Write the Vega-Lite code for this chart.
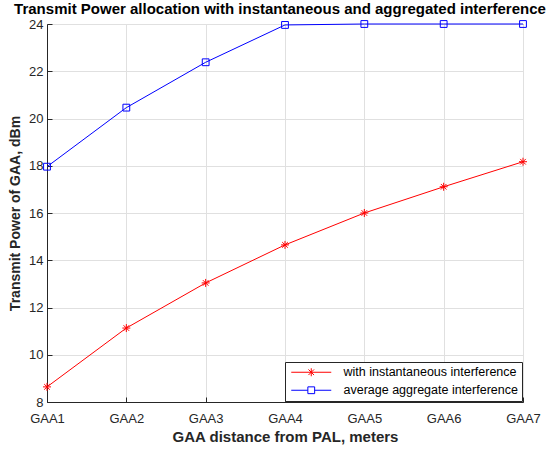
{
  "$schema": "https://vega.github.io/schema/vega-lite/v6.json",
  "width": 476,
  "height": 378,
  "autosize": "none",
  "padding": {"left": 47, "top": 24, "right": 30, "bottom": 49},
  "background": "white",
  "title": {
    "text": "Transmit Power allocation with instantaneous and aggregated interference",
    "font": "Liberation Sans",
    "fontSize": 15,
    "fontWeight": "bold",
    "color": "#000000",
    "anchor": "middle",
    "offset": 3,
    "dy": 2,
    "dx": -5
  },
  "config": {
    "view": {"stroke": "#262626", "strokeWidth": 1},
    "axis": {
      "labelFont": "Liberation Sans",
      "labelFontSize": 13,
      "labelColor": "#262626",
      "titleFont": "Liberation Sans",
      "titleFontSize": 14,
      "titleFontWeight": "bold",
      "titleColor": "#262626",
      "domainColor": "#262626",
      "tickColor": "#262626",
      "tickSize": -5,
      "gridColor": "#e0e0e0",
      "gridWidth": 1
    }
  },
  "data": {
    "values": [
      {"x": "GAA1", "series": "with instantaneous interference", "y": 8.64},
      {"x": "GAA2", "series": "with instantaneous interference", "y": 11.13},
      {"x": "GAA3", "series": "with instantaneous interference", "y": 13.04},
      {"x": "GAA4", "series": "with instantaneous interference", "y": 14.65},
      {"x": "GAA5", "series": "with instantaneous interference", "y": 16.0},
      {"x": "GAA6", "series": "with instantaneous interference", "y": 17.11},
      {"x": "GAA7", "series": "with instantaneous interference", "y": 18.17},
      {"x": "GAA1", "series": "average aggregate interference", "y": 17.96},
      {"x": "GAA2", "series": "average aggregate interference", "y": 20.46},
      {"x": "GAA3", "series": "average aggregate interference", "y": 22.38},
      {"x": "GAA4", "series": "average aggregate interference", "y": 23.96},
      {"x": "GAA5", "series": "average aggregate interference", "y": 24.0},
      {"x": "GAA6", "series": "average aggregate interference", "y": 24.0},
      {"x": "GAA7", "series": "average aggregate interference", "y": 24.0}
    ]
  },
  "encoding": {
    "x": {
      "field": "x",
      "type": "ordinal",
      "scale": {"type": "point", "padding": 0},
      "axis": {"title": "GAA distance from PAL, meters", "titleFontSize": 15, "labelAngle": 0, "grid": true, "labelPadding": 15, "titlePadding": 4}
    },
    "y": {
      "field": "y",
      "type": "quantitative",
      "scale": {"domain": [8, 24], "nice": false, "zero": false},
      "axis": {"title": "Transmit Power of GAA, dBm", "values": [8, 10, 12, 14, 16, 18, 20, 22, 24], "grid": true, "labelPadding": 9, "titlePadding": 6}
    },
    "color": {
      "field": "series",
      "type": "nominal",
      "scale": {"domain": ["with instantaneous interference", "average aggregate interference"], "range": ["#ff0000", "#0000ff"]},
      "legend": {
        "title": null,
        "orient": "bottom-right",
        "offset": 1,
        "fillColor": "white",
        "strokeColor": "#262626",
        "padding": 4,
        "labelFont": "Liberation Sans",
        "labelFontSize": 12.5,
        "labelColor": "#000000",
        "labelLimit": 0,
        "symbolSize": 64,
        "symbolOffset": 16,
        "rowPadding": 5,
        "labelOffset": 26,
        "encode": {
          "symbols": {
            "update": {
              "shape": {"signal": "datum.value === 'with instantaneous interference' ? 'M-5,0H5M0,-1V1M-0.7,-0.7L0.7,0.7M-0.7,0.7L0.7,-0.7' : 'M-5,0H-0.85M0.85,0H5M-0.85,-0.85H0.85V0.85H-0.85Z'"},
              "fill": {"value": "transparent"},
              "strokeWidth": {"value": 1}
            }
          }
        }
      }
    }
  },
  "layer": [
    {"mark": {"type": "line", "strokeWidth": 1}},
    {
      "transform": [{"filter": "datum.series === 'with instantaneous interference'"}],
      "mark": {"type": "point", "filled": false, "strokeWidth": 1, "size": 64, "opacity": 1, "shape": "M-1,0H1M0,-1V1M-0.7,-0.7L0.7,0.7M-0.7,0.7L0.7,-0.7"}
    },
    {
      "transform": [{"filter": "datum.series === 'average aggregate interference'"}],
      "mark": {"type": "point", "filled": false, "strokeWidth": 1, "size": 64, "opacity": 1, "shape": "M-0.85,-0.85H0.85V0.85H-0.85Z"}
    }
  ]
}
